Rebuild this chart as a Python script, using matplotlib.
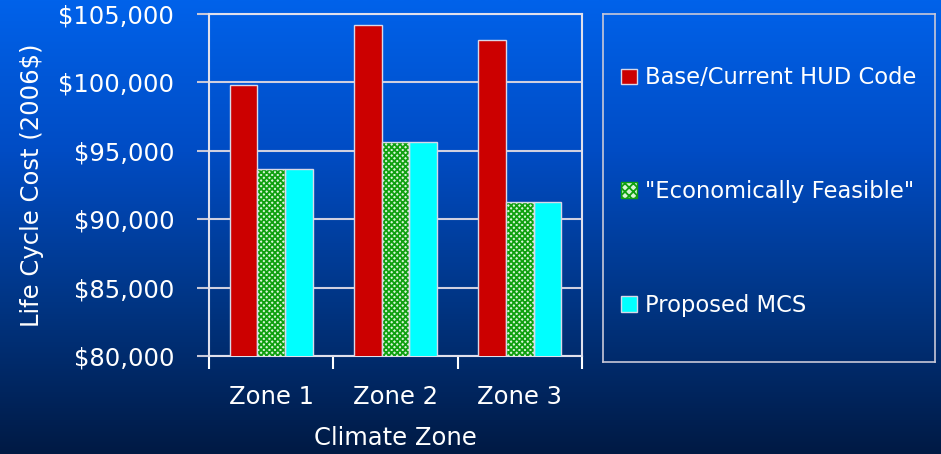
import numpy as np
import matplotlib
matplotlib.use("Agg")
from matplotlib import pyplot as plt
from matplotlib.colors import LinearSegmentedColormap
from matplotlib.patches import Patch
from matplotlib.ticker import FuncFormatter

zones = ["Zone 1", "Zone 2", "Zone 3"]
series_names = ["Base/Current HUD Code", '"Economically Feasible"', "Proposed MCS"]
base_hud = [99800, 104200, 103100]
econ_feasible = [93700, 95650, 91250]
proposed_mcs = [93700, 95650, 91250]

plt.rcParams['font.family'] = ['DejaVu Sans']
plt.rcParams['hatch.linewidth'] = 1.3

fig = plt.figure(figsize=(9.41, 4.54), dpi=100)

# vertical blue gradient behind everything
bg = fig.add_axes([0, 0, 1, 1], zorder=-10)
grad_cmap = LinearSegmentedColormap.from_list(
    "bg", ["#001a44", "#003584", "#004cc4", "#0062ea"])
bg.imshow(np.linspace(0, 1, 256).reshape(-1, 1), aspect="auto", cmap=grad_cmap,
          origin="lower", extent=[0, 1, 0, 1])
bg.axis("off")

ax = fig.add_axes([209 / 941, 1 - 356 / 454, 373 / 941, 342 / 454])
ax.patch.set_alpha(0)

x = np.arange(len(zones))
w = 0.222
edge = "#d8d8e8"
green = "#10a010"
chk_face = "#d8f4d8"
ax.bar(x - w, base_hud, w, color="#cc0000", edgecolor=edge, linewidth=1, zorder=3)
# hatch takes the edge colour, so fill green-hatched first then outline
ax.bar(x, econ_feasible, w, color=chk_face, edgecolor=green, hatch="xxxxxx",
       linewidth=0, zorder=3)
ax.bar(x, econ_feasible, w, fill=False, edgecolor=edge, linewidth=1, zorder=4)
ax.bar(x + w, proposed_mcs, w, color="#00ffff", edgecolor=edge, linewidth=1, zorder=3)

ax.set_xlim(-0.5, 2.5)
ax.set_ylim(80000, 105000)
ax.set_yticks(np.arange(80000, 105001, 5000))
ax.yaxis.set_major_formatter(FuncFormatter(lambda v, pos: "${:,.0f}".format(v)))
ax.set_xticks([-0.5, 0.5, 1.5, 2.5])
ax.set_xticklabels([])
ax.set_xticks(x, minor=True)
ax.set_xticklabels(zones, minor=True)
ax.tick_params(axis="x", which="minor", length=0, pad=21, labelsize=17.5, colors="white")
ax.tick_params(axis="x", which="major", length=9, width=1.5, color="white", direction="out")
ax.tick_params(axis="y", length=9, width=1.5, color="#c8c8d8", labelsize=17.5,
               labelcolor="white", pad=16)

ax.grid(axis="y", color="#d0d0e0", linewidth=1.5, zorder=1)
for s in ax.spines.values():
    s.set_color("#e0e0ec")
    s.set_linewidth(1.5)

ax.set_xlabel("Climate Zone", color="white", fontsize=17.5, labelpad=12)
ax.set_ylabel("Life Cycle Cost (2006$)", color="white", fontsize=17.5, labelpad=10)

# legend panel on the right
lax = fig.add_axes([603 / 941, 1 - 362 / 454, 332 / 941, 348 / 454])
lax.patch.set_alpha(0)
lax.set_xticks([])
lax.set_yticks([])
for s in lax.spines.values():
    s.set_color("#c8c8d8")
    s.set_linewidth(1.2)
lax.set_xlim(0, 1)
lax.set_ylim(0, 1)
handles = [
    Patch(facecolor="#cc0000", edgecolor=edge),
    Patch(facecolor=chk_face, edgecolor=green, hatch="xxxx"),
    Patch(facecolor="#00ffff", edgecolor=edge),
]
leg = lax.legend(handles, series_names, loc="center left", bbox_to_anchor=(0.0, 0.49),
                 frameon=False, fontsize=16.3, labelcolor="white", handlelength=0.7,
                 handleheight=0.7, handletextpad=0.35, labelspacing=4.0,
                 borderaxespad=0.4)

fig.savefig("out.png", dpi=100)
